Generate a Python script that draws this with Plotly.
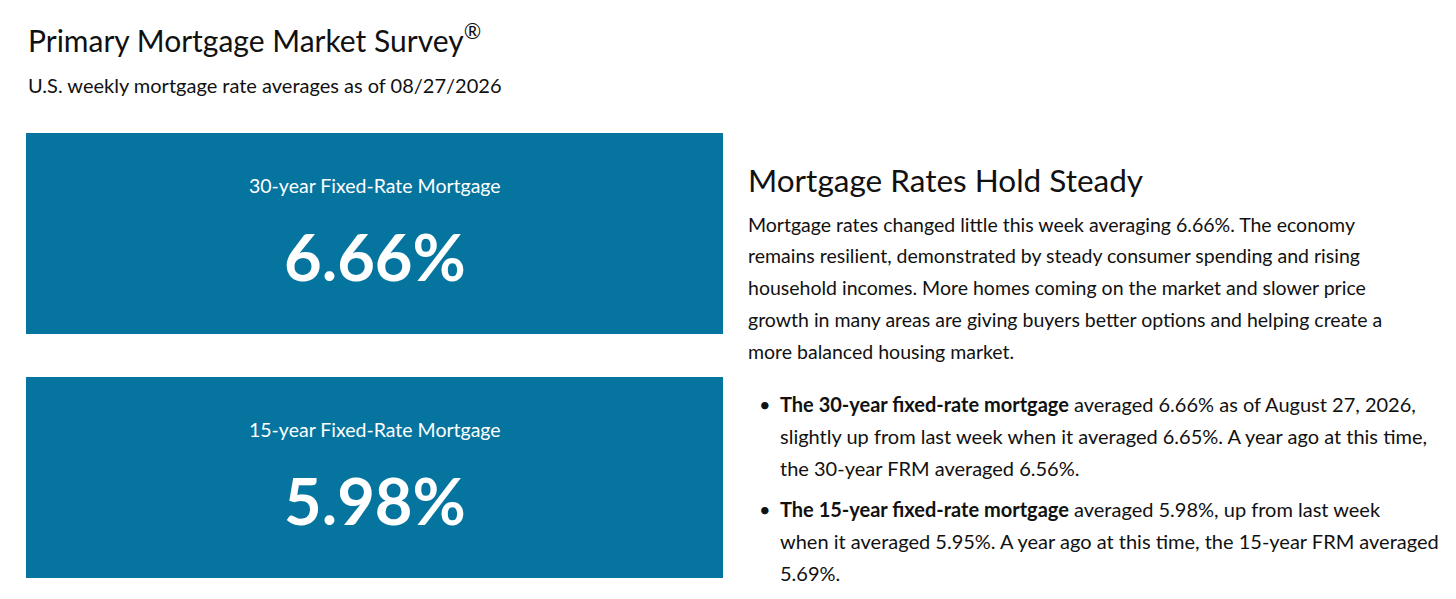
import plotly.graph_objects as go

# survey values
products = ["30-year Fixed-Rate Mortgage", "15-year Fixed-Rate Mortgage"]
rates = [6.66, 5.98]
last_week = [6.65, 5.95]
year_ago = [6.56, 5.69]
as_of = "08/27/2026"
as_of_long = "August 27, 2026"

title = "Primary Mortgage Market Survey<sup>®</sup>"
subtitle = "U.S. weekly mortgage rate averages as of " + as_of
headline = "Mortgage Rates Hold Steady"
body_lines = [
    "Mortgage rates changed little this week averaging %.2f%%. The economy" % rates[0],
    "remains resilient, demonstrated by steady consumer spending and rising",
    "household incomes. More homes coming on the market and slower price",
    "growth in many areas are giving buyers better options and helping create a",
    "more balanced housing market.",
]
bullets = [
    ["<b>The 30-year fixed-rate mortgage</b> averaged %.2f%% as of %s," % (rates[0], as_of_long),
     "slightly up from last week when it averaged %.2f%%. A year ago at this time," % last_week[0],
     "the 30-year FRM averaged %.2f%%." % year_ago[0]],
    ["<b>The 15-year fixed-rate mortgage</b> averaged %.2f%%, up from last week" % rates[1],
     "when it averaged %.2f%%. A year ago at this time, the 15-year FRM averaged" % last_week[1],
     "%.2f%%." % year_ago[1]],
]

W, H = 1456, 599
OFF = 8  # page body margin
BLUE = "#05759f"
INK = "#111111"
FONT = "Lato"

fig = go.Figure()

ann = []
def txt(x, y, s, size, color=INK, anchor="left"):
    ann.append(dict(x=x, y=y, xref="x", yref="y", text=s, showarrow=False,
                    xanchor=anchor, yanchor="middle",
                    font=dict(family=FONT, size=size, color=color)))

txt(26, 38, title, 30)
txt(26, 85, subtitle, 20)

box_tops = [133, 377]
for i, top in enumerate(box_tops):
    fig.add_shape(type="rect", x0=26, x1=723, y0=top, y1=top + 201,
                  fillcolor=BLUE, line=dict(width=0), layer="below")
    txt(375, top + 52, products[i], 19.5, "white", "center")
    txt(375, top + 123, "<b>%.2f%%</b>" % rates[i], 65, "white", "center")

txt(746, 180, headline, 31.5)
for k, line in enumerate(body_lines):
    txt(746, 224 + 31.8 * k, line, 19.5)

bullet_tops = [404, 509]
for b, lines in enumerate(bullets):
    txt(765, bullet_tops[b], "•", 20, anchor="center")
    for k, line in enumerate(lines):
        txt(778, bullet_tops[b] + 31.8 * k, line, 20)

fig.update_layout(
    width=W, height=H, margin=dict(l=0, r=0, t=0, b=0),
    plot_bgcolor="white", paper_bgcolor="white", showlegend=False,
    xaxis=dict(range=[OFF, W + OFF], visible=False, fixedrange=True),
    yaxis=dict(range=[H + OFF, OFF], visible=False, fixedrange=True),
    annotations=ann,
)
fig.write_html("out.html")
